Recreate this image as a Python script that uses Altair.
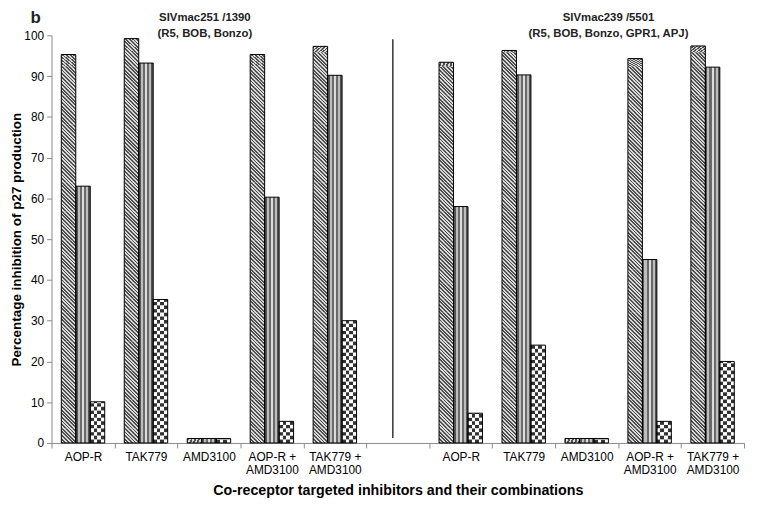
import altair as alt
import pandas as pd

# ---------------- data ----------------
labels = ["AOP-R", "TAK779", "AMD3100", "AOP-R +|AMD3100", "TAK779 +|AMD3100", "",
          "AOP-R", "TAK779", "AMD3100", "AOP-R +|AMD3100", "TAK779 +|AMD3100"]
series = ["hatch", "stripe", "check"]
hatch_vals = [95.3, 99.2, 1.1, 95.3, 97.3, None, 93.4, 96.3, 1.1, 94.3, 97.4]
stripe_vals = [63.0, 93.2, 1.1, 60.3, 90.2, None, 58.0, 90.3, 1.1, 45.0, 92.2]
check_vals = [10.1, 35.2, 1.1, 5.3, 30.0, None, 7.3, 24.0, 1.1, 5.3, 20.0]
group1_title = ["SIVmac251 /1390", "(R5, BOB, Bonzo)"]
group2_title = ["SIVmac239 /5501", "(R5, BOB, Bonzo, GPR1, APJ)"]
panel_letter = "b"
x_title = "Co-receptor targeted inhibitors and their combinations"
y_title = "Percentage inhibition of p27 production"
y_ticks = list(range(0, 101, 10))

ids = [f"{i:02d}:{lab}" for i, lab in enumerate(labels)]
rows = []
for s, vals in zip(series, [hatch_vals, stripe_vals, check_vals]):
    for cid, v in zip(ids, vals):
        if v is not None:
            rows.append({"cat": cid, "series": s, "value": v})
df = pd.DataFrame(rows)

# ---------------- styling ----------------
W, H = 700, 412
PO = 0.675
BARW = W / len(ids) / (3 + 2 * PO)
SEG = BARW / (H / 100.0)
ROW = SEG / 4
FONT = "Liberation Sans"
AX = "#8a8a8a"


def columns(colors, x1=0, y1=0, x2=1, y2=0):
    n = len(colors)
    stops = []
    for k, c in enumerate(colors):
        stops.append({"offset": k / n, "color": c})
        stops.append({"offset": (k + 1) / n, "color": c})
    return {"gradient": "linear", "x1": x1, "y1": y1, "x2": x2, "y2": y2, "stops": stops}


D, L = "#505050", "#d8d8d8"
hatch_fill = columns([D, L] * 8, 0, 1, 1, 0)
stripe_fill = columns(["#555555", "#bdbdbd", "#6a6a6a", "#dcdcdc", "#6a6a6a", "#bdbdbd", "#555555"])
check_even = columns(["#333333", "#ffffff", "#333333", "#ffffff"])
check_odd = columns(["#ffffff", "#333333", "#ffffff", "#333333"])

xenc = alt.X(
    "cat:N",
    scale=alt.Scale(domain=ids, paddingInner=0, paddingOuter=0),
    axis=alt.Axis(
        labelExpr="split(slice(datum.label, 3), '|')",
        labelAngle=0, tickBand="extent", domainColor=AX, tickColor=AX,
        tickSize=5, labelPadding=4, labelFontSize=12, labelLineHeight=13,
        labelColor="black", titleFontSize=14.4, titleFontWeight="bold",
        titlePadding=8, titleColor="black",
    ),
    title=x_title,
)
yenc = alt.Y(
    "lo:Q",
    scale=alt.Scale(domain=[0, 100], nice=False),
    axis=alt.Axis(
        values=y_ticks, grid=False, domainColor=AX, tickColor=AX, tickSize=5,
        labelPadding=3, labelFontSize=12, labelColor="black",
        titleFontSize=13.6, titleFontWeight="bold", titleColor="black",
        titleX=-35, titleBaseline="middle",
    ),
    title=y_title,
)
y2enc = alt.Y2("hi:Q")
xo = alt.XOffset("series:N", scale=alt.Scale(domain=series, paddingInner=0, paddingOuter=PO))
enc = dict(x=xenc, xOffset=xo, y=yenc, y2=y2enc)

base = alt.Chart(df)
full = base.transform_calculate(lo="0", hi="datum.value")


def segments(name, step):
    return (
        base.transform_filter(f"datum.series == '{name}'")
        .transform_calculate(st=f"sequence(0, datum.value, {step})")
        .transform_flatten(["st"])
        .transform_calculate(lo="datum.st", hi=f"min(datum.st + {step}, datum.value)",
                             par=f"round(datum.st / {step}) % 2")
    )


hatch_base = full.transform_filter("datum.series == 'hatch'").mark_bar(fill=L).encode(**enc)
hatch_seg = segments("hatch", SEG).mark_bar(fill=hatch_fill).encode(**enc)
stripe_bar = full.transform_filter("datum.series == 'stripe'").mark_bar(fill=stripe_fill).encode(**enc)
check_base = full.transform_filter("datum.series == 'check'").mark_bar(fill="white").encode(**enc)
check_e = segments("check", ROW).transform_filter("datum.par == 0").mark_bar(fill=check_even).encode(**enc)
check_o = segments("check", ROW).transform_filter("datum.par == 1").mark_bar(fill=check_odd).encode(**enc)
outline = full.mark_bar(fillOpacity=0, stroke="black", strokeWidth=1).encode(**enc)

one = pd.DataFrame({"d": [0]})
divider = alt.Chart(one).mark_rule(color="black", strokeWidth=1.2).encode(
    x=alt.value(345), y=alt.value(4), y2=alt.value(407)
)


def label(text, x, y, size=11.5, baseline="middle"):
    return alt.Chart(pd.DataFrame({"t": [text]})).mark_text(
        font=FONT, fontSize=size, fontWeight="bold", align="center", baseline=baseline, color="#222222"
    ).encode(text="t:N", x=alt.value(x), y=alt.value(y))


texts = [
    label(group1_title[0], 155, -18),
    label(group1_title[1], 155, -1),
    label(group2_title[0], 563, -18),
    label(group2_title[1], 563, -1),
    label(panel_letter, -16, -12, 17, "alphabetic"),
]

chart = alt.layer(
    hatch_base, hatch_seg, stripe_bar, check_base, check_e, check_o, outline, divider, *texts
).properties(
    width=W, height=H,
    padding={"left": 44, "top": 25, "right": 6, "bottom": 55},
    autosize=alt.AutoSizeParams(type="none"),
).configure(font=FONT).configure_view(strokeWidth=0)

chart.save("out.html", embed_options={"renderer": "svg", "actions": False})
